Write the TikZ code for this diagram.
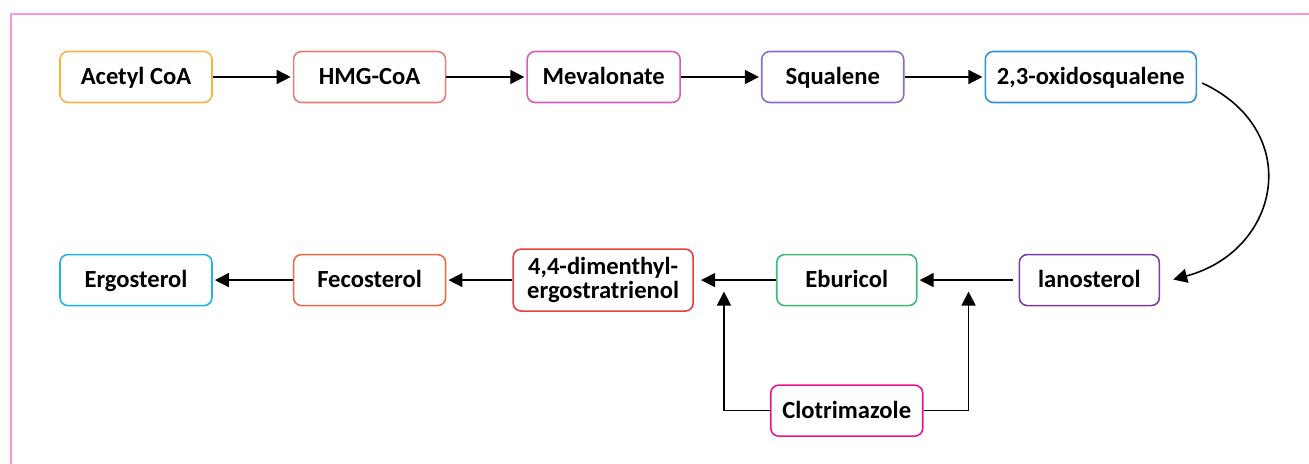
\documentclass[tikz,border=0pt]{standalone}
\usepackage{fontspec}
\setmainfont{Carlito}
\usepackage{tikz}
\usetikzlibrary{arrows.meta,positioning}
\definecolor{cAcetyl}{HTML}{F8B24A}
\definecolor{cHmg}{HTML}{E57F73}
\definecolor{cMeval}{HTML}{D35DB8}
\definecolor{cSqual}{HTML}{8C6CC4}
\definecolor{cOxido}{HTML}{2E93DA}
\definecolor{cLano}{HTML}{7A3FA6}
\definecolor{cEburi}{HTML}{3DBB74}
\definecolor{cDimeth}{HTML}{EA3C43}
\definecolor{cFecos}{HTML}{EE6A44}
\definecolor{cErgo}{HTML}{1FB2EE}
\definecolor{cClot}{HTML}{E8168E}
\definecolor{cFrame}{HTML}{FF96D6}
\tikzset{
  >={Triangle[length=2.8mm,width=2.8mm]},
  boxbase/.style={
    draw, rectangle, rounded corners=1.6mm, align=center, inner sep=3pt,
    font=\fontsize{14}{15.5}\selectfont\bfseries, line width=0.9pt,
    minimum height=10.2mm, minimum width=30.4mm
  },
  stage/.style={boxbase, text height=11pt, text depth=2pt},
  link/.style={->, line width=0.9pt, shorten >=1.2pt},
}

\begin{document}
\begin{tikzpicture}[node distance=16.0mm]
  \useasboundingbox (0,0) rectangle (26.18,-9.28);
  \draw[cFrame, line width=1pt] (0.22,-9.4) -- (0.22,-0.28) -- (26.3,-0.28);

  % top row
  \node[stage, draw=cAcetyl] (acetyl) at (2.72,-1.54) {Acetyl CoA};
  \node[stage, draw=cHmg, right=of acetyl] (hmg) {HMG-CoA};
  \node[stage, draw=cMeval, right=of hmg, minimum width=30.6mm] (meval) {Mevalonate};
  \node[stage, draw=cSqual, right=of meval, minimum width=28.4mm] (squal) {Squalene};
  \node[stage, draw=cOxido, right=of squal, minimum width=42.2mm] (oxido) {2,3-oxidosqualene};

  % bottom row
  \node[stage, draw=cErgo, below=30.1mm of acetyl] (ergo) {Ergosterol};
  \node[stage, draw=cFecos, right=of ergo] (fecos) {Fecosterol};
  \node[boxbase, draw=cDimeth, right=13.2mm of fecos, minimum width=36mm, minimum height=12.4mm,
        inner sep=1pt] (dimeth) {4,4-dimenthyl-\\[-2pt]ergostratrienol};
  \node[stage, draw=cEburi, right=16.4mm of dimeth, minimum width=28mm] (eburi) {Eburicol};
  \node[stage, draw=cLano, right=20.2mm of eburi, minimum width=28mm] (lano) {lanosterol};
  \node[stage, draw=cClot, below=15.6mm of eburi] (clot) {Clotrimazole};

  \coordinate (hitA) at ([shift={(0.6,-0.23)}]dimeth.east);
  \coordinate (hitB) at ([shift={(-1.0,-0.23)}]lano.west);

  \draw[link] (acetyl) -- (hmg);
  \draw[link] (hmg) -- (meval);
  \draw[link] (meval) -- (squal);
  \draw[link] (squal) -- (oxido);
  \draw[link] ([shift={(0.1,-0.12)}]oxido.east) to[out=-25, in=15, looseness=1.45]
    ([xshift=2.2mm]lano.east);
  \draw[link, shorten <=3pt] (lano) -- (eburi);
  \draw[link] (eburi) -- ([xshift=1mm]dimeth.east);
  \draw[link] (dimeth) -- (fecos);
  \draw[link] (fecos) -- (ergo);
  \draw[link, shorten >=0pt] (clot.west) -| (hitA);
  \draw[link, shorten >=0pt] (clot.east) -| (hitB);
\end{tikzpicture}
\end{document}
